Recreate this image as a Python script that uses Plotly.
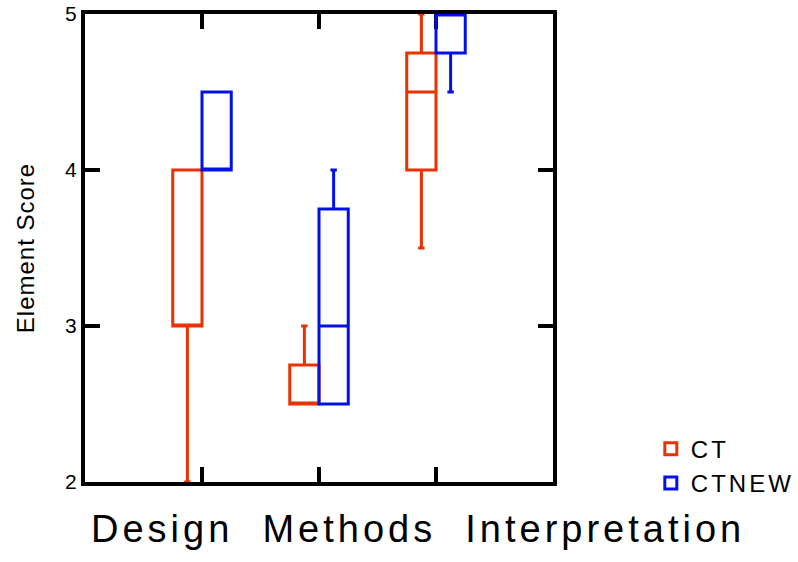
import plotly.graph_objects as go

# Rubric sections and box statistics per group
categories = ["Design", "Methods", "Interpretation"]

ct_q1 = [3.0, 2.5, 4.0]
ct_median = [3.0, 2.5, 4.5]
ct_q3 = [4.0, 2.75, 4.75]
ct_low = [2.0, 2.5, 3.5]
ct_high = [4.0, 3.0, 5.0]

ctnew_q1 = [4.0, 2.5, 4.75]
ctnew_median = [4.0, 3.0, 5.0]
ctnew_q3 = [4.5, 3.75, 5.0]
ctnew_low = [4.0, 2.5, 4.5]
ctnew_high = [4.5, 4.0, 5.0]

y_ticks = [2, 3, 4, 5]

RED = "#E83200"
BLUE = "#0010E6"
FONT = "Liberation Sans, Arial, sans-serif"


def spaced(text, px):
    return f'<span style="letter-spacing:{px}px">{text}</span>'


fig = go.Figure()


def add_group(name, color, q1, med, q3, lo, hi):
    fig.add_trace(go.Box(
        name=spaced(name, 3),
        x=categories,
        q1=q1, median=med, q3=q3,
        lowerfence=lo, upperfence=hi,
        line=dict(color=color, width=3),
        fillcolor="rgba(0,0,0,0)",
        whiskerwidth=0.22,
        boxpoints=False,
        hoverinfo="skip",
    ))


add_group("CT", RED, ct_q1, ct_median, ct_q3, ct_low, ct_high)
add_group("CTNEW", BLUE, ctnew_q1, ctnew_median, ctnew_q3, ctnew_low, ctnew_high)

axis_common = dict(
    showline=True, linecolor="black", linewidth=4,
    mirror="allticks", ticks="inside", ticklen=15, tickwidth=4,
    tickcolor="black", showgrid=False, zeroline=False,
    layer="below traces",
)

fig.update_layout(
    width=798, height=562,
    margin=dict(l=85, r=245, t=14, b=80, autoexpand=False),
    paper_bgcolor="white", plot_bgcolor="white",
    boxmode="group", boxgap=0.5, boxgroupgap=0,
    font=dict(family=FONT, color="black"),
    xaxis=dict(
        type="category", categoryorder="array", categoryarray=categories,
        range=[-1, 3], showticklabels=False, **axis_common,
    ),
    yaxis=dict(
        range=[2, 5], tickvals=y_ticks, ticktext=[str(v) for v in y_ticks],
        tickfont=dict(size=21, family=FONT),
        title=dict(text=spaced("Element Score", 1), font=dict(size=24, family=FONT), standoff=25),
        **axis_common,
    ),
    legend=dict(
        x=1.209, y=0.034, xanchor="left", yanchor="middle",
        font=dict(size=24, family=FONT),
        bgcolor="rgba(0,0,0,0)", tracegroupgap=0,
    ),
    showlegend=True,
)

fig.add_annotation(
    text=spaced("\u00a0\u00a0".join(categories), 4),
    xref="paper", yref="paper", x=(418 - 85) / 468, y=-0.052,
    xanchor="center", yanchor="top", showarrow=False,
    font=dict(size=38, family=FONT, color="black"),
)

fig.write_html("out.html")
